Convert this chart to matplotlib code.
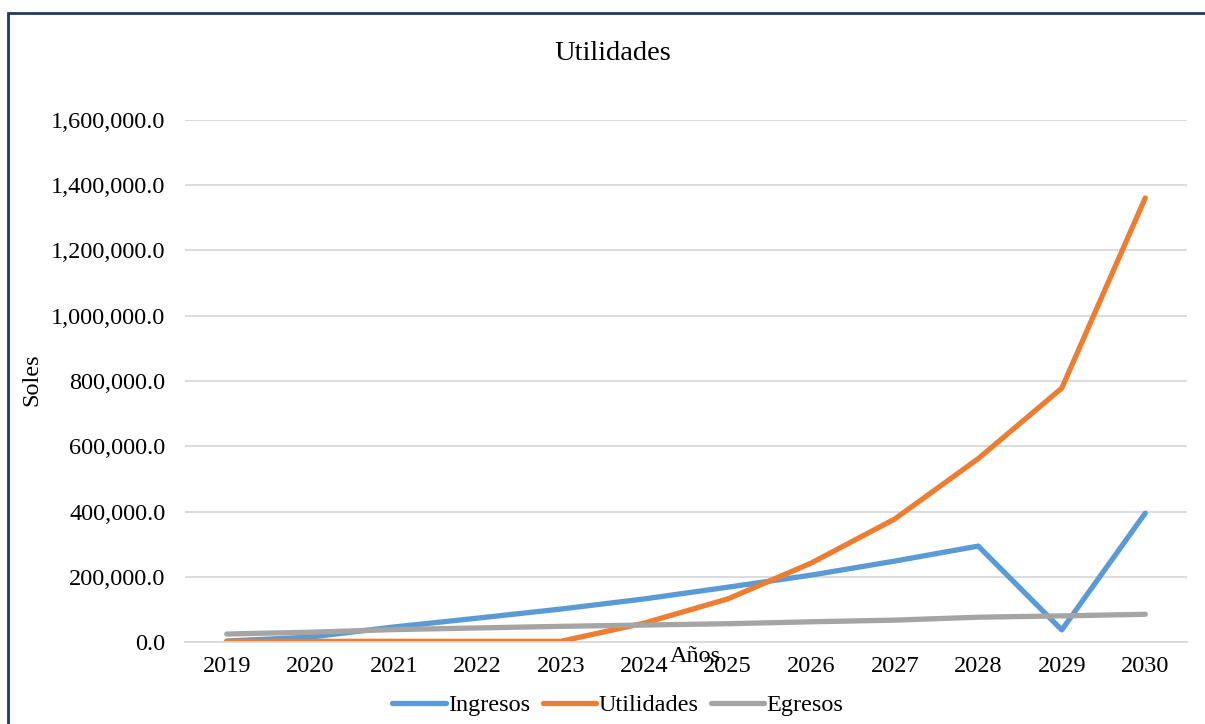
import matplotlib
matplotlib.use("Agg")
import matplotlib.pyplot as plt
from matplotlib.patches import Rectangle
from matplotlib.ticker import FuncFormatter

# datos
anios = ['2019', '2020', '2021', '2022', '2023', '2024',
         '2025', '2026', '2027', '2028', '2029', '2030']
ingresos = [3000, 15000, 46000, 73000, 101000, 132000,
            168000, 205000, 248000, 294000, 37000, 395000]
utilidades = [2000, 2000, 2000, 2000, 2000, 58000,
              132000, 242000, 377000, 562000, 778000, 1361000]
egresos = [24500, 30000, 38000, 43000, 48000, 52000,
           56000, 62000, 67000, 76000, 80000, 85000]

plt.rcParams['font.family'] = ['Liberation Serif', 'DejaVu Serif']

W, H = 1205, 724
fig = plt.figure(figsize=(W / 100, H / 100), dpi=100, facecolor='white')
ax = fig.add_axes([185 / W, (H - 642) / H, (1187 - 185) / W, (642 - 120) / H])

x = range(len(anios))
ax.plot(x, ingresos, color='#5B9BD5', lw=3.8, label='Ingresos', solid_capstyle='round')
ax.plot(x, utilidades, color='#ED7D31', lw=3.8, label='Utilidades', solid_capstyle='round')
ax.plot(x, egresos, color='#A5A5A5', lw=3.8, label='Egresos', solid_capstyle='round')

ax.set_xlim(-0.5, len(anios) - 0.5)
ax.set_ylim(0, 1600000)
ax.set_yticks(range(0, 1600001, 200000))
ax.yaxis.set_major_formatter(FuncFormatter(lambda v, p: f'{v:,.1f}'))
ax.set_xticks(list(x))
ax.set_xticklabels(anios)
ax.tick_params(axis='both', length=0, labelsize=17.5, colors='black')
ax.tick_params(axis='y', pad=14)
ax.tick_params(axis='x', pad=10)

ax.grid(True, axis='y', color='#D9D9D9', lw=1.3)
ax.set_axisbelow(True)
for s in ['top', 'right', 'left']:
    ax.spines[s].set_visible(False)
ax.spines['bottom'].set_color('#D9D9D9')
ax.spines['bottom'].set_linewidth(1.3)

fig.text(613 / W, 1 - 53 / H, 'Utilidades', ha='center', va='center', fontsize=20.5)
fig.text(32 / W, 1 - 380 / H, 'Soles', ha='center', va='center', rotation=90, fontsize=17.5)
fig.text(695 / W, 1 - 656 / H, 'Años', ha='center', va='center', fontsize=17.5)

fig.legend(loc='center', bbox_to_anchor=(618 / W, 1 - 705 / H), ncol=3, frameon=False,
           fontsize=17.5, handlelength=2.2, handletextpad=0.1, columnspacing=0.5)

# borde azul del recuadro
fig.add_artist(Rectangle((8 / W, -0.1), 1.2, 1 - 13 / H + 0.1, transform=fig.transFigure,
                         fill=False, edgecolor='#1F3864', lw=2))

fig.savefig('out.png', dpi=100, facecolor='white')
